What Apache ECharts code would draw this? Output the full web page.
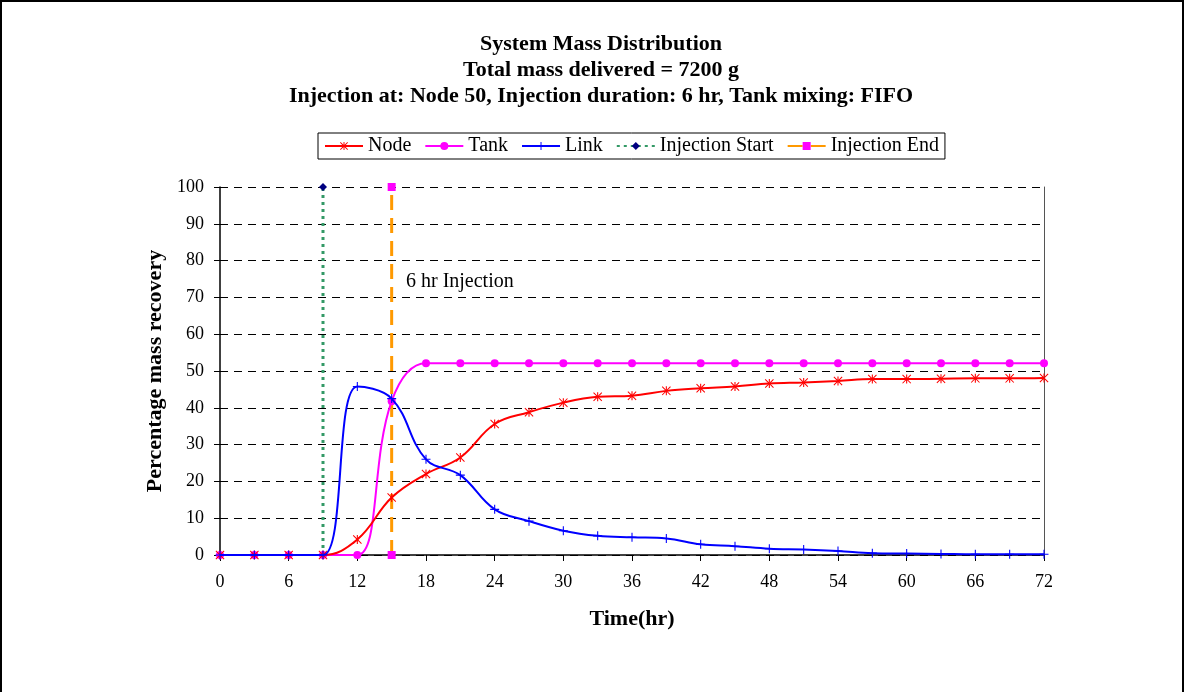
<!DOCTYPE html>
<html>
<head>
<meta charset="utf-8">
<script src="https://cdn.jsdelivr.net/npm/echarts@6/dist/echarts.min.js"></script>
<style>
  html, body { margin: 0; padding: 0; background: #fff; }
  #chart { width: 1185px; height: 692px; }
</style>
</head>
<body>
<div id="chart"></div>
<script>
// time steps (hr)
var hours = [0, 3, 6, 9, 12, 15, 18, 21, 24, 27, 30, 33, 36, 39, 42, 45, 48, 51, 54, 57, 60, 63, 66, 69, 72];
// percentage mass recovery
var nodeVals = [0, 0, 0, 0, 4.2, 15.6, 22, 26.5, 35.6, 38.8, 41.4, 43.0, 43.3, 44.6, 45.3, 45.8, 46.6, 46.9, 47.3, 47.8, 47.8, 47.9, 48.0, 48.0, 48.1];
var tankVals = [0, 0, 0, 0, 0, 41.8, 52.1, 52.1, 52.1, 52.1, 52.1, 52.1, 52.1, 52.1, 52.1, 52.1, 52.1, 52.1, 52.1, 52.1, 52.1, 52.1, 52.1, 52.1, 52.1];
var linkVals = [0, 0, 0, 0, 45.8, 42.5, 26, 21.7, 12.4, 9.2, 6.6, 5.2, 4.8, 4.5, 2.9, 2.4, 1.7, 1.5, 1.1, 0.5, 0.4, 0.3, 0.2, 0.2, 0.2];
var injStart = [[9, 0], [9, 100]];
var injEnd = [[15, 0], [15, 100]];

function pairs(xs, ys) {
  return xs.map(function (x, i) { return [x, ys[i]]; });
}

var serif = 'Liberation Serif';
var asterisk = 'path://M4.4 0H5.6V10H4.4Z M0 0.8L0.8 0L10 9.2L9.2 10Z M10 0.8L9.2 0L0 9.2L0.8 10Z';
var plus = 'path://M4.4 0H5.6V10H4.4Z M0 4.4H10V5.6H0Z';

var chart = echarts.init(document.getElementById('chart'));
var option = {
  backgroundColor: '#fff',
  animation: false,
  title: {
    text: 'System Mass Distribution\nTotal mass delivered = 7200 g\nInjection at: Node 50, Injection duration: 6 hr, Tank mixing: FIFO',
    left: 596,
    textAlign: 'center',
    top: 26,
    textStyle: {
      fontFamily: serif,
      fontWeight: 'bold',
      fontSize: 22,
      lineHeight: 26,
      color: '#000'
    }
  },
  legend: {
    left: 318,
    top: 133,
    itemWidth: 38,
    itemHeight: 10,
    itemGap: 13,
    padding: [3, 6, 3, 6],
    borderColor: '#000',
    borderWidth: 1,
    borderRadius: 0,
    textStyle: { fontFamily: serif, fontSize: 20, color: '#000' },
    data: ['Node', 'Tank', 'Link', 'Injection Start', 'Injection End']
  },
  grid: { left: 220, right: 141, top: 187, bottom: 137 },
  xAxis: {
    type: 'value',
    min: 0,
    max: 72,
    interval: 6,
    name: 'Time(hr)',
    nameLocation: 'middle',
    nameGap: 53,
    nameTextStyle: { fontFamily: serif, fontWeight: 'bold', fontSize: 22, color: '#000' },
    axisLine: { lineStyle: { color: '#000', width: 1.5 } },
    axisTick: { show: true, length: 6, lineStyle: { color: '#000' } },
    axisLabel: { fontFamily: serif, fontSize: 18, color: '#000', margin: 18 },
    splitLine: { show: false }
  },
  yAxis: [{
    type: 'value',
    min: 0,
    max: 100,
    interval: 10,
    name: 'Percentage mass recovery',
    nameLocation: 'middle',
    nameGap: 54,
    nameTextStyle: { fontFamily: serif, fontWeight: 'bold', fontSize: 22, color: '#000' },
    axisLine: { show: true, lineStyle: { color: '#000', width: 1.5 } },
    axisTick: { show: true, length: 6, lineStyle: { color: '#000' } },
    axisLabel: { fontFamily: serif, fontSize: 18, color: '#000', margin: 16 },
    splitLine: { show: true, lineStyle: { color: '#000', type: [8, 6], width: 1 } }
  }, {
    type: 'value',
    min: 0,
    max: 100,
    position: 'right',
    axisLine: { show: true, lineStyle: { color: '#555', width: 1 } },
    axisTick: { show: false },
    axisLabel: { show: false },
    splitLine: { show: false }
  }],
  series: [
    {
      name: 'Node', type: 'line', smooth: 0.4,
      data: pairs(hours, nodeVals),
      symbol: asterisk, symbolSize: 9,
      itemStyle: { color: '#FF0000' },
      lineStyle: { color: '#FF0000', width: 2 },
      z: 4
    },
    {
      name: 'Tank', type: 'line', smooth: 0.4,
      data: pairs(hours, tankVals),
      symbol: 'circle', symbolSize: 8,
      itemStyle: { color: '#FF00FF' },
      lineStyle: { color: '#FF00FF', width: 2 },
      z: 3
    },
    {
      name: 'Link', type: 'line', smooth: 0.4,
      data: pairs(hours, linkVals),
      symbol: plus, symbolSize: 9,
      itemStyle: { color: '#0000FF' },
      lineStyle: { color: '#0000FF', width: 2 },
      z: 5
    },
    {
      name: 'Injection Start', type: 'line',
      data: injStart,
      symbol: 'diamond', symbolSize: 8,
      itemStyle: { color: '#000080' },
      lineStyle: { color: '#339966', width: 3, type: [3, 4] },
      z: 2
    },
    {
      name: 'Injection End', type: 'line',
      data: injEnd,
      symbol: 'rect', symbolSize: 8,
      itemStyle: { color: '#FF00FF' },
      lineStyle: { color: '#FF9900', width: 3, type: [15, 8] },
      z: 2,
      markPoint: {
        symbol: 'circle', symbolSize: 0,
        data: [{ coord: [16.25, 74.2] }],
        label: {
          show: true, position: 'right', distance: 0,
          formatter: '6 hr Injection',
          fontFamily: serif, fontSize: 20, color: '#000'
        }
      }
    }
  ],
  graphic: [{
    type: 'rect',
    shape: { x: 1, y: 1, width: 1182, height: 720 },
    style: { fill: 'none', stroke: '#000', lineWidth: 2 },
    silent: true
  }]
};
chart.setOption(option);
</script>
</body>
</html>
